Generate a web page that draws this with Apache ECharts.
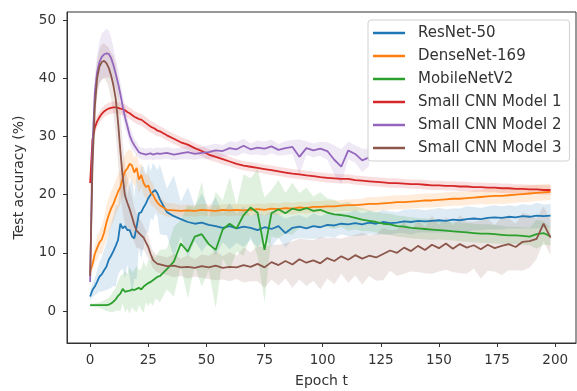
<!DOCTYPE html>
<html>
<head>
    <meta charset="utf-8">
    <title>Test accuracy</title>
    <script src="https://cdn.jsdelivr.net/npm/echarts@6.0.0/dist/echarts.min.js"></script>
    <style>
        html, body { margin: 0; padding: 0; background: #fff; }
        #chart { width: 577px; height: 391px; }
    </style>
</head>
<body>
<div id="chart"></div>
<script>
    // epochs: every epoch up to 29, then every 3rd
    var epochs = [0,1,2,3,4,5,6,7,8,9,10,11,12,13,14,15,16,17,18,19,20,21,22,23,24,25,26,27,28,29,
        30,33,36,39,42,45,48,51,54,57,60,63,66,69,72,75,78,81,84,87,90,93,96,99,102,105,108,111,114,117,
        120,123,126,129,132,135,138,141,144,147,150,153,156,159,162,165,168,171,174,177,180,183,186,189,192,195,198];
    var xTicks = [0, 25, 50, 75, 100, 125, 150, 175, 200];
    var yTicks = [0, 10, 20, 30, 40, 50];

    var resnet = [2.5,3.6,4.2,5.0,5.9,6.3,7.0,7.6,8.8,9.5, 10.3,11.2,12.2,15.0,14.2,14.6,13.9,13.9,12.8,12.5, 14.5,16.8,17.0,17.8,18.5,19.4,20.0,20.5,20.8,20.2,
        19.2,17.0,16.3,15.8,15.3,15.0,15.2,14.8,14.6,14.3, 14.6,14.2,14.5,14.3,13.9,14.4,14.1,14.6,13.4,14.3,
        14.5,14.2,14.6,14.4,14.8,14.7,15.0,14.9,15.1,14.9, 15.2,15.0,15.3,15.1,15.2,15.4,15.3,15.5,15.4,15.5,
        15.6,15.5,15.7,15.6,15.8,15.9,15.8,16.0,16.1,16.0, 16.2,16.1,16.3,16.2,16.4,16.3,16.4];
    var resnetStd = [0.8,1.2,1.5,2.0,2.5,3.0,3.5,4.0,5.0,5.5, 6.0,7.0,6.0,8.0,7.0,9.0,6.0,8.0,10.0,7.0, 9.0,6.0,8.0,7.0,5.0,6.0,4.0,5.0,4.0,4.0,
        6.0,4.0,7.0,3.0,6.0,3.0,5.0,3.0,5.0,2.5, 4.0,2.5,3.5,2.0,3.0,2.0,3.0,2.0,2.5,2.0,
        2.0,1.8,2.2,1.9,2.0,2.1,1.8,2.0,2.2,1.9, 2.0,1.9,2.1,2.0,1.8,2.0,2.2,2.0,1.9,2.0,
        2.1,2.0,1.9,2.0,2.2,2.0,1.9,2.0,2.1,2.0, 2.0,1.9,2.1,2.0,2.2,2.0,2.0];

    var densenet = [6.8,8.0,9.8,10.8,11.8,12.3,13.5,15.2,16.5,17.6, 18.4,19.5,20.5,21.3,22.8,24.0,24.5,25.3,25.0,23.8, 24.6,22.6,23.4,22.0,21.3,21.6,20.4,20.0,19.2,18.6,
        18.2,17.4,17.3,17.2,17.3,17.2,17.4,17.3,17.2,17.4, 17.3,17.4,17.3,17.4,17.5,17.4,17.6,17.5,17.7,17.6,
        17.8,17.7,17.9,17.9,18.0,18.0,18.1,18.2,18.2,18.3, 18.4,18.4,18.5,18.6,18.7,18.7,18.8,18.9,19.0,19.0,
        19.1,19.2,19.3,19.3,19.4,19.5,19.6,19.7,19.8,19.8, 19.9,20.0,20.1,20.2,20.3,20.4,20.5];
    var densenetStd = [0.8,1.0,1.5,2.0,2.0,2.5,2.5,3.0,3.0,3.0, 3.0,3.0,3.0,3.0,3.0,3.0,3.0,2.5,2.5,2.5, 2.5,2.5,2.0,2.0,2.0,2.0,2.0,2.0,1.5,1.5,
        1.5,1.2,1.2,1.0,1.0,1.0,1.0,1.0,1.0,1.0, 1.0,1.0,1.0,1.0,1.0,1.0,1.0,1.0,1.0,1.0,
        1.0,1.0,1.0,1.0,1.0,1.0,1.0,1.0,1.0,1.0, 1.2,1.2,1.2,1.2,1.2,1.2,1.2,1.2,1.2,1.2,
        1.2,1.2,1.2,1.2,1.2,1.2,1.2,1.4,1.4,1.4, 1.4,1.4,1.4,1.4,1.4,1.4,1.4];

    var mobilenet = [1.0,1.0,1.0,1.0,1.0,1.0,1.0,1.0,1.1,1.3, 1.6,2.0,2.6,3.0,3.8,3.3,3.4,3.5,3.7,3.6, 3.8,4.0,3.7,4.2,4.5,4.8,5.0,5.3,5.6,5.9,
        6.0,7.2,8.5,11.6,10.2,12.8,13.2,11.5,10.5,14.0, 15.0,14.2,16.5,17.8,16.9,10.5,16.8,17.5,16.8,17.6,
        17.3,17.7,17.2,17.4,16.9,16.6,16.5,16.3,16.0,15.7, 15.5,15.3,15.0,14.9,14.6,14.5,14.3,14.2,14.1,14.0,
        13.9,13.8,13.7,13.6,13.5,13.4,13.3,13.3,13.2,13.1, 13.0,13.0,12.9,12.8,13.2,13.4,12.8];
    var mobilenetStd = [0.3,0.3,0.3,0.4,0.5,0.6,0.8,1.0,1.2,1.5, 1.8,2.0,2.5,3.0,2.5,3.5,3.0,4.0,3.0,3.5, 4.0,3.0,3.5,4.5,3.0,4.0,3.5,4.5,3.5,4.0,
        4.5,3.5,6.0,4.0,8.0,5.0,9.0,4.5,10.0,5.0, 8.0,4.0,7.0,5.0,7.5,9.0,4.0,5.0,3.5,4.5,
        3.0,3.5,2.5,3.0,2.5,2.5,2.0,2.5,2.0,2.0, 1.8,1.8,1.8,1.8,1.8,1.8,1.8,1.8,1.8,1.8,
        1.6,1.6,1.6,1.6,1.6,1.6,1.6,1.6,1.6,1.6, 1.5,1.5,1.5,1.5,2.5,2.0,1.5];

    var cnn1 = [22.0,29.5,31.5,32.6,33.3,33.9,34.3,34.6,34.8,34.9, 35.0,35.0,34.9,34.8,34.7,34.5,34.2,34.0,33.7,33.4, 33.2,33.0,32.9,32.6,32.3,32.0,31.7,31.5,31.3,31.0,
        30.9,30.2,29.6,29.0,28.6,28.0,27.5,26.9,26.5,26.1, 25.7,25.3,25.0,24.8,24.6,24.4,24.2,24.0,23.8,23.6,
        23.5,23.3,23.2,23.0,22.9,22.8,22.7,22.7,22.5,22.4, 22.3,22.2,22.1,22.0,22.0,21.9,21.8,21.8,21.7,21.6,
        21.6,21.5,21.5,21.4,21.4,21.3,21.3,21.2,21.2,21.1, 21.1,21.0,21.0,20.9,20.9,20.8,20.8];
    var cnn1Std = [2.0,1.5,1.2,1.0,1.0,1.0,1.0,1.0,1.0,1.0, 1.0,1.0,1.0,1.0,1.0,1.0,1.0,1.0,1.0,1.0, 1.0,1.0,1.0,1.0,1.0,1.0,1.0,1.0,1.0,1.0,
        0.9,0.9,0.9,0.9,0.9,0.9,0.9,0.9,0.9,0.9, 0.8,0.8,0.8,0.8,0.8,0.8,0.8,0.8,0.8,0.8,
        0.8,0.8,0.8,0.8,0.8,0.8,0.8,0.8,0.8,0.8, 0.8,0.8,0.8,0.8,0.8,0.8,0.8,0.8,0.8,0.8,
        0.8,0.8,0.8,0.8,0.8,0.8,0.8,0.8,0.8,0.8, 0.8,0.8,0.8,0.8,0.8,0.8,0.8];

    // model 2 stops at epoch 120
    var cnn2 = [5.0,28.0,37.5,41.0,42.8,43.7,44.1,44.3,44.2,43.5, 42.3,40.8,39.2,37.3,35.2,33.3,31.8,30.2,29.2,28.5, 27.9,27.3,27.1,27.0,26.9,27.0,27.1,26.9,27.0,27.1,
        27.0,27.2,26.9,27.1,27.3,27.0,27.2,27.3,27.6,27.5, 28.0,27.8,28.4,27.8,28.1,27.9,28.3,27.7,28.0,28.2,
        26.5,28.0,27.6,27.9,27.5,26.0,24.8,27.6,27.0,25.9, 26.4];
    var cnn2Std = [0.5,3.0,3.0,3.0,3.5,4.0,4.0,4.2,4.0,3.5, 3.0,2.5,2.5,2.0,2.0,2.0,1.5,1.5,1.5,1.2, 1.2,1.0,1.0,1.0,1.0,1.0,1.0,1.0,1.0,1.0,
        1.0,1.0,1.0,1.0,1.2,1.0,1.0,1.2,1.2,1.0, 1.2,1.2,1.2,1.0,1.2,1.2,1.2,1.0,1.2,1.2,
        3.0,1.2,1.2,1.2,1.5,2.5,3.0,1.5,1.5,2.0, 1.5];

    var cnn3 = [6.0,25.0,35.0,40.0,42.0,42.8,43.0,42.6,41.8,40.5, 38.8,36.5,32.5,27.5,23.0,19.8,18.6,17.5,16.2,14.8, 13.8,13.4,13.0,12.6,11.8,11.0,9.8,8.8,8.4,8.1,
        8.0,7.7,7.8,7.5,7.6,7.4,7.7,7.5,7.8,7.4, 7.6,7.5,7.9,7.6,8.1,7.5,8.4,7.9,8.6,8.0,
        8.9,8.3,8.7,8.2,9.1,8.6,9.4,8.8,9.6,9.0, 9.5,9.2,9.8,10.4,10.0,10.9,10.3,11.2,10.5,11.4,
        10.8,11.6,10.7,11.5,10.9,11.3,10.6,11.4,10.8,11.2, 11.5,11.0,11.9,12.0,12.4,15.0,12.6];
    var cnn3Std = [1.0,4.0,4.0,3.0,3.0,3.0,3.0,3.0,3.5,4.0, 5.0,6.0,7.0,7.0,6.0,5.0,4.5,4.0,3.5,3.0, 3.0,2.5,2.5,2.0,2.0,2.0,1.5,1.5,1.5,1.5,
        1.5,1.5,2.0,1.5,2.0,1.5,2.0,2.0,2.5,2.0, 2.5,2.0,3.0,2.5,3.0,3.5,3.0,3.5,3.0,4.0,
        3.5,4.0,3.5,4.5,3.5,4.0,3.0,4.0,3.5,4.5, 3.5,4.0,4.5,3.5,4.0,4.5,3.5,4.5,4.0,5.0,
        4.0,4.5,4.0,5.0,4.5,4.0,5.0,4.5,4.0,5.0, 4.5,4.0,5.0,4.5,3.5,3.0,3.0];

    var models = [
        { name: 'ResNet-50', color: '#1f77b4', mean: resnet, std: resnetStd },
        { name: 'DenseNet-169', color: '#ff7f0e', mean: densenet, std: densenetStd },
        { name: 'MobileNetV2', color: '#2ca02c', mean: mobilenet, std: mobilenetStd },
        { name: 'Small CNN Model 1', color: '#d62728', mean: cnn1, std: cnn1Std },
        { name: 'Small CNN Model 2', color: '#9467bd', mean: cnn2, std: cnn2Std },
        { name: 'Small CNN Model 3', color: '#8c564b', mean: cnn3, std: cnn3Std }
    ];

    // shaded band (mean +- std) as one polygon, placed with the axes' own coord()
    function bandSeries(m) {
        return {
            type: 'custom', silent: true, z: 1,
            data: [[0]],
            renderItem: function (params, api) {
                var up = [], down = [];
                for (var i = 0; i < m.mean.length; i++) {
                    up.push(api.coord([epochs[i], m.mean[i] + m.std[i]]));
                    down.push(api.coord([epochs[i], m.mean[i] - m.std[i]]));
                }
                return {
                    type: 'polygon',
                    shape: { points: up.concat(down.reverse()) },
                    style: { fill: m.color, opacity: 0.15 }
                };
            }
        };
    }

    var bands = [], lines = [];
    models.forEach(function (m) {
        bands.push(bandSeries(m));
        lines.push({
            name: m.name, type: 'line', symbol: 'none', color: m.color, z: 3,
            lineStyle: { width: 1.8, color: m.color },
            emphasis: { disabled: true },
            data: m.mean.map(function (v, i) { return [epochs[i], v]; })
        });
    });

    var textColor = '#333';
    var font = 'DejaVu Sans';
    var chart = echarts.init(document.getElementById('chart'));
    chart.setOption({
        animation: false,
        grid: { left: 67, right: 1, top: 12, bottom: 48, show: true, borderColor: '#333', borderWidth: 1, outerBoundsMode: 'none' },
        legend: {
            data: models.map(function (m) { return m.name; }),
            orient: 'vertical', left: 368, top: 20,
            icon: 'rect', itemWidth: 32, itemHeight: 2.5, itemGap: 7,
            padding: [5, 8, 5, 5],
            backgroundColor: 'rgba(255,255,255,0.8)', borderColor: '#d0d0d0', borderWidth: 1, borderRadius: 3,
            textStyle: { fontFamily: font, fontSize: 15, color: textColor, lineHeight: 16, padding: [0, 0, 0, 8] }
        },
        xAxis: {
            type: 'value', min: -9.95, max: 208.95,
            name: 'Epoch t', nameLocation: 'middle', nameGap: 31,
            nameTextStyle: { fontFamily: font, fontSize: 14, color: textColor },
            axisLine: { show: true, onZero: false, lineStyle: { color: '#333' } },
            axisTick: { show: true, length: 4, customValues: xTicks, lineStyle: { color: '#333' } },
            axisLabel: { customValues: xTicks, fontFamily: font, fontSize: 13.5, color: textColor, margin: 10 },
            splitLine: { show: false }
        },
        yAxis: {
            type: 'value', min: -5.5, max: 51.4,
            name: 'Test accuracy (%)', nameLocation: 'middle', nameGap: 41,
            nameTextStyle: { fontFamily: font, fontSize: 14, color: textColor },
            axisLine: { show: true, onZero: false, lineStyle: { color: '#333' } },
            axisTick: { show: true, length: 4, customValues: yTicks, lineStyle: { color: '#333' } },
            axisLabel: { customValues: yTicks, fontFamily: font, fontSize: 13.5, color: textColor, margin: 11 },
            splitLine: { show: false }
        },
        series: bands.concat(lines)
    });
</script>
</body>
</html>
